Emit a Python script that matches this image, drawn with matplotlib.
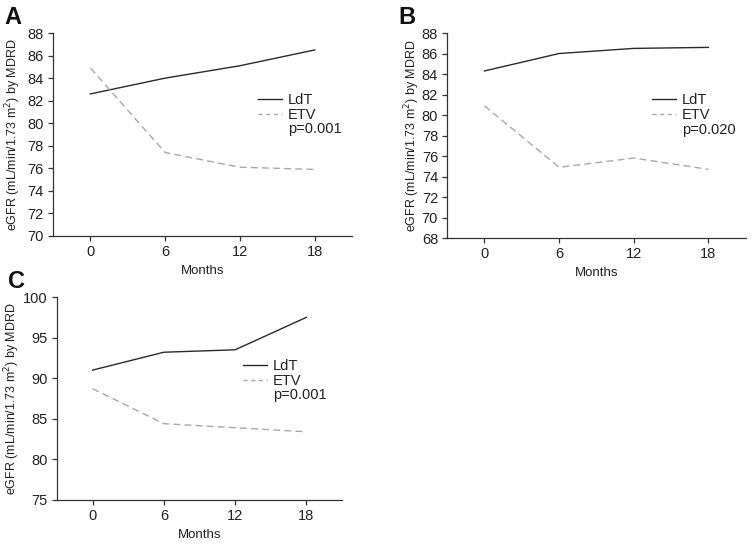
import matplotlib.pyplot as plt
from matplotlib.lines import Line2D

plt.rcParams['font.family'] = ['Liberation Sans', 'DejaVu Sans']
plt.rcParams['font.size'] = 10

months = [0, 6, 12, 18]

ldt_a = [82.6, 84.0, 85.1, 86.5]
etv_a = [84.9, 77.4, 76.1, 75.9]
ldt_b = [84.3, 86.0, 86.5, 86.6]
etv_b = [80.9, 74.9, 75.8, 74.7]
ldt_c = [91.0, 93.2, 93.5, 97.5]
etv_c = [88.7, 84.4, 83.9, 83.4]

panels = [
    ("A", ldt_a, etv_a, "p=0.001", (70, 88), range(70, 89, 2)),
    ("B", ldt_b, etv_b, "p=0.020", (68, 88), range(68, 89, 2)),
    ("C", ldt_c, etv_c, "p=0.001", (75, 100), range(75, 101, 5)),
]
boxes = [
    [0.0703, 0.567, 0.3967, 0.3724],
    [0.593, 0.5633, 0.396, 0.3761],
    [0.0756, 0.0826, 0.378, 0.3724],
]
legend_pos = [(0.686, 0.705), (0.686, 0.705), (0.653, 0.695)]
ylabel_x = [-0.10, -0.084, -0.123]

fig = plt.figure(figsize=(7.54, 5.45), dpi=100)
ldt_color = '#2a2a2a'
etv_color = '#a8a8a8'

for (letter, ldt, etv, pval, ylim, yticks), box, lpos, lx in zip(panels, boxes, legend_pos, ylabel_x):
    ax = fig.add_axes(box)
    ax.plot(months, ldt, color=ldt_color, lw=1.0)
    ax.plot(months, etv, color=etv_color, lw=1.0, dashes=(5, 3))
    ax.set_xlim(-3, 21)
    ax.set_ylim(*ylim)
    ax.set_xticks(months)
    ax.set_yticks(list(yticks))
    for s in ['top', 'right']:
        ax.spines[s].set_visible(False)
    for s in ['left', 'bottom']:
        ax.spines[s].set_color('#333333')
        ax.spines[s].set_linewidth(0.9)
    ax.tick_params(direction='out', length=3.5, width=0.9, color='#333333',
                   labelsize=10.5, labelcolor='#222222', pad=3)
    ax.set_xlabel("Months", fontsize=9.5, color='#222222', labelpad=4)
    ax.set_ylabel("eGFR (mL/min/1.73 m$^{2}$) by MDRD", fontsize=9,
                  color='#222222')
    ax.yaxis.set_label_coords(lx, 0.5)
    handles = [Line2D([], [], color=ldt_color, lw=1.0),
               Line2D([], [], color=etv_color, lw=1.0, dashes=(3, 2.5)),
               Line2D([], [], color='none')]
    ax.legend(handles, ["LdT", "ETV", pval], loc='upper left',
              bbox_to_anchor=lpos, frameon=False, fontsize=10.5,
              handlelength=1.65, handletextpad=0.4, labelspacing=0.05,
              borderpad=0, borderaxespad=0, labelcolor='#222222')
    fig.text(box[0] - 0.065, box[1] + box[3] + 0.008, letter,
             fontsize=17, fontweight='bold', color='#111111', va='bottom')

fig.savefig("out.png", dpi=100)
